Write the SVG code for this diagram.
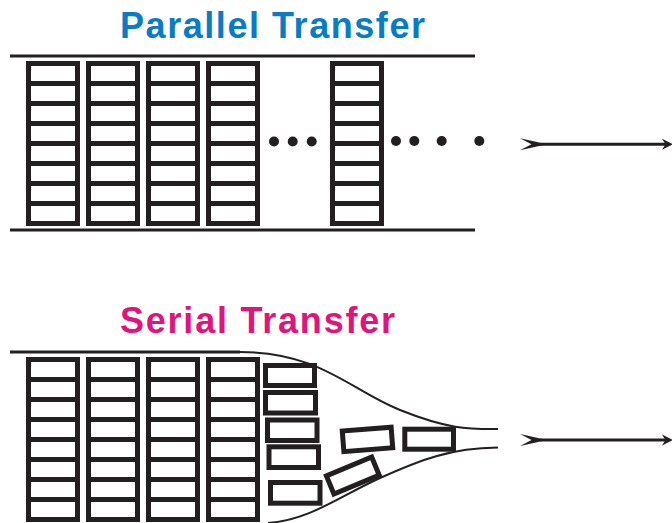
<svg xmlns="http://www.w3.org/2000/svg" width="672" height="523" viewBox="0 0 672 523">
<defs>
<style>
.c{fill:#fff;stroke:#231f20;stroke-width:5}
.rail{stroke:#231f20;stroke-width:3;fill:none}
.curve{stroke:#231f20;stroke-width:2;fill:none}
.dot{fill:#231f20}
.t{font-family:"Liberation Sans",Arial,sans-serif;font-weight:bold;font-size:36px}
.shaft{stroke:#231f20;stroke-width:3}
.ah{fill:#231f20}
</style>
<g id="col">
<rect class="c" x="0" y="0" width="49" height="20"/>
<rect class="c" x="0" y="20" width="49" height="20"/>
<rect class="c" x="0" y="40" width="49" height="20"/>
<rect class="c" x="0" y="60" width="49" height="20"/>
<rect class="c" x="0" y="80" width="49" height="20"/>
<rect class="c" x="0" y="100" width="49" height="20"/>
<rect class="c" x="0" y="120" width="49" height="20"/>
<rect class="c" x="0" y="140" width="49" height="20"/>
</g>
<g id="arr">
<line class="shaft" x1="540" y1="0" x2="668" y2="0"/>
<polygon class="ah" points="520,-6 547,0 520,6 531.5,0"/>
<polygon class="ah" points="662,-5.5 673,0 662,5.5 665.5,0"/>
</g>
</defs>

<g id="parallel-title">
<text class="t" x="120" y="37.5" fill="#0a7cc4" textLength="305" lengthAdjust="spacing">Parallel Transfer</text>
</g>

<g id="parallel-bus">
<line class="rail" x1="10" y1="56" x2="475" y2="56"/>
<line class="rail" x1="10" y1="230" x2="475" y2="230"/>
</g>

<g id="parallel-columns">
<use href="#col" x="28.5" y="63.5"/>
<use href="#col" x="88.5" y="63.5"/>
<use href="#col" x="148.5" y="63.5"/>
<use href="#col" x="208.5" y="63.5"/>
<use href="#col" x="332.5" y="63.5"/>
</g>

<g id="parallel-dots">
<circle class="dot" cx="274" cy="141.5" r="5"/>
<circle class="dot" cx="292.7" cy="141.5" r="5"/>
<circle class="dot" cx="311.7" cy="141.5" r="5"/>
<circle class="dot" cx="396" cy="141" r="5"/>
<circle class="dot" cx="414.3" cy="141" r="5"/>
<circle class="dot" cx="441.7" cy="141" r="5"/>
<circle class="dot" cx="479.3" cy="141" r="5"/>
</g>

<g id="serial-title">
<text class="t" x="120" y="332.5" fill="#e0147c" textLength="275" lengthAdjust="spacing">Serial Transfer</text>
</g>

<g id="serial-bus">
<line class="rail" x1="10" y1="352" x2="240" y2="352"/>
<path class="curve" d="M240,352 C320,352 350,390 400,410 S470,429 498,429"/>
<path class="curve" d="M498,447.5 C450,448 420,460 380,478 S310,520 268,523"/>
</g>

<g id="serial-columns">
<use href="#col" x="28.5" y="359.5"/>
<use href="#col" x="88.5" y="359.5"/>
<use href="#col" x="148.5" y="359.5"/>
<use href="#col" x="208.5" y="359.5"/>
</g>

<g id="serial-bits">
<rect class="c" x="265.5" y="365.5" width="49" height="20"/>
<rect class="c" x="265.5" y="392.5" width="50" height="20.5"/>
<rect class="c" x="267.5" y="420" width="49.5" height="20.5"/>
<rect class="c" x="269" y="446.8" width="49.5" height="20.7"/>
<rect class="c" x="270.5" y="482.5" width="49.5" height="20.7"/>
<rect class="c" x="-24.5" y="-10.3" width="49" height="20.6" transform="translate(367.5 439.4) rotate(-4.5)"/>
<rect class="c" x="404.8" y="429.2" width="48.7" height="20"/>
<rect class="c" x="-24.5" y="-9.8" width="49" height="19.6" transform="translate(352.8 475.5) rotate(-22.5)"/>
</g>

<g id="connectors">
<use href="#arr" x="0" y="144.3"/>
<use href="#arr" x="0" y="440"/>
</g>
</svg>
